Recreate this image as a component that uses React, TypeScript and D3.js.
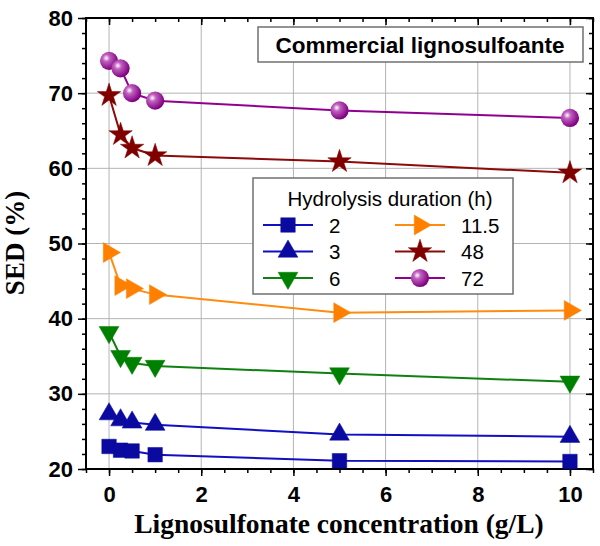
import React, { useEffect, useRef } from 'react';
import * as d3 from 'd3';

// concentrations (g/L)
const conc = [0, 0.25, 0.5, 1, 5, 10];

// SED (%) per hydrolysis duration
const sed2 = [23.0, 22.5, 22.4, 21.9, 21.1, 21.0];
const sed3 = [27.3, 26.5, 26.2, 25.9, 24.6, 24.3];
const sed6 = [38.2, 35.0, 34.1, 33.7, 32.7, 31.6];
const sed11 = [48.8, 44.4, 44.0, 43.2, 40.8, 41.1];
const sed48 = [69.7, 64.5, 62.7, 61.7, 60.9, 59.4];
const sed72 = [74.3, 73.3, 70.0, 69.0, 67.7, 66.7];

const seriesNames = ['2', '3', '6', '11.5', '48', '72'];
const seriesValues = [sed2, sed3, sed6, sed11, sed48, sed72];

const xTicks = [0, 2, 4, 6, 8, 10];
const yTicks = [20, 30, 40, 50, 60, 70, 80];

const App = () => {
  const svgRef = useRef(null);

  useEffect(() => {
    const width = 600;
    const height = 546;
    const svg = d3.select(svgRef.current);
    svg.selectAll('*').remove();
    svg.attr('width', width).attr('height', height);

    const m = { left: 86, right: 593, top: 18, bottom: 469 };
    const x = d3.scaleLinear().domain([-0.5, 10.5]).range([m.left, m.right]);
    const y = d3.scaleLinear().domain([20, 80]).range([m.bottom, m.top]);

    const defs = svg.append('defs');
    const grad = defs.append('radialGradient')
      .attr('id', 'sphere')
      .attr('cx', '35%').attr('cy', '35%').attr('r', '65%');
    grad.append('stop').attr('offset', '0%').attr('stop-color', '#ffffff');
    grad.append('stop').attr('offset', '30%').attr('stop-color', '#c060c0');
    grad.append('stop').attr('offset', '100%').attr('stop-color', '#800080');

    // grid
    const grid = svg.append('g').attr('stroke', '#b4b4b4').attr('stroke-width', 1);
    xTicks.forEach(t => {
      grid.append('line').attr('x1', x(t)).attr('x2', x(t)).attr('y1', m.top).attr('y2', m.bottom);
    });
    yTicks.slice(1, -1).forEach(t => {
      grid.append('line').attr('x1', m.left).attr('x2', m.right).attr('y1', y(t)).attr('y2', y(t));
    });

    // axes
    const xMinor = d3.range(-0.5, 10.51, 0.5);
    const yMinor = d3.range(20, 80.01, 2);
    const styleAxis = (g, fs) => {
      g.select('.domain').remove();
      g.selectAll('line').attr('stroke', '#000').attr('stroke-width', 1.5);
      g.selectAll('text')
        .attr('font-family', 'Liberation Sans, Arial, sans-serif')
        .attr('font-weight', 'bold')
        .attr('font-size', fs)
        .attr('fill', '#000');
    };

    // bottom
    svg.append('g').attr('transform', `translate(0,${m.bottom})`)
      .call(d3.axisBottom(x).tickValues(xMinor).tickSize(4).tickFormat(() => ''))
      .call(g => styleAxis(g, 0));
    svg.append('g').attr('transform', `translate(0,${m.bottom})`)
      .call(d3.axisBottom(x).tickValues(xTicks).tickSize(7).tickPadding(10).tickFormat(d3.format('d')))
      .call(g => styleAxis(g, 22));
    // top (inward)
    svg.append('g').attr('transform', `translate(0,${m.top})`)
      .call(d3.axisBottom(x).tickValues(xMinor).tickSize(4).tickFormat(() => ''))
      .call(g => styleAxis(g, 0));
    svg.append('g').attr('transform', `translate(0,${m.top})`)
      .call(d3.axisBottom(x).tickValues(xTicks).tickSize(7).tickFormat(() => ''))
      .call(g => styleAxis(g, 0));
    // left
    svg.append('g').attr('transform', `translate(${m.left},0)`)
      .call(d3.axisLeft(y).tickValues(yMinor).tickSize(4).tickFormat(() => ''))
      .call(g => styleAxis(g, 0));
    svg.append('g').attr('transform', `translate(${m.left},0)`)
      .call(d3.axisLeft(y).tickValues(yTicks).tickSize(8).tickPadding(5).tickFormat(d3.format('d')))
      .call(g => styleAxis(g, 22));
    // right (inward)
    svg.append('g').attr('transform', `translate(${m.right},0)`)
      .call(d3.axisLeft(y).tickValues(yMinor).tickSize(4).tickFormat(() => ''))
      .call(g => styleAxis(g, 0));
    svg.append('g').attr('transform', `translate(${m.right},0)`)
      .call(d3.axisLeft(y).tickValues(yTicks).tickSize(7).tickFormat(() => ''))
      .call(g => styleAxis(g, 0));

    svg.append('rect')
      .attr('x', m.left).attr('y', m.top)
      .attr('width', m.right - m.left).attr('height', m.bottom - m.top)
      .attr('fill', 'none').attr('stroke', '#000').attr('stroke-width', 2);

    // series styles
    const styles = [
      { line: '#1010c0', fill: '#0a0aa0', type: d3.symbolSquare, size: 210, rot: 0 },
      { line: '#1010c0', fill: '#0a0aa0', type: d3.symbolTriangle, size: 170, rot: 0 },
      { line: '#108010', fill: '#008000', type: d3.symbolTriangle, size: 170, rot: 180 },
      { line: '#ff8c10', fill: '#ff8000', type: d3.symbolTriangle, size: 170, rot: 90 },
      { line: '#8b0a0a', fill: '#800000', type: d3.symbolStar, size: 170, rot: 0 },
      { line: '#900090', fill: 'url(#sphere)', type: d3.symbolCircle, size: 260, rot: 0 },
    ];

    const line = d3.line().x((d, i) => x(conc[i])).y(d => y(d));
    const plot = svg.append('g');
    seriesValues.forEach((vals, si) => {
      const s = styles[si];
      plot.append('path').datum(vals)
        .attr('d', line)
        .attr('fill', 'none').attr('stroke', s.line).attr('stroke-width', 2);
    });
    seriesValues.forEach((vals, si) => {
      const s = styles[si];
      const sym = d3.symbol().type(s.type).size(s.size);
      plot.selectAll(null).data(vals).enter().append('path')
        .attr('d', sym)
        .attr('transform', (d, i) => `translate(${x(conc[i])},${y(d)}) rotate(${s.rot})`)
        .attr('fill', s.fill)
        .attr('stroke', si === 5 ? 'none' : s.fill)
        .attr('stroke-width', 0.5);
    });

    // title box
    svg.append('rect').attr('x', 258).attr('y', 27).attr('width', 325).attr('height', 35)
      .attr('fill', '#fff').attr('stroke', '#707070').attr('stroke-width', 1.5);
    svg.append('text').attr('x', 420).attr('y', 53)
      .attr('text-anchor', 'middle')
      .attr('font-family', 'Liberation Sans, Arial, sans-serif')
      .attr('font-weight', 'bold').attr('font-size', 22.5)
      .text('Commercial lignosulfoante');

    // legend
    const lg = svg.append('g');
    lg.append('rect').attr('x', 253).attr('y', 178).attr('width', 260).attr('height', 116)
      .attr('fill', '#fff').attr('stroke', '#707070').attr('stroke-width', 1.5);
    lg.append('text').attr('x', 390).attr('y', 206)
      .attr('text-anchor', 'middle')
      .attr('font-family', 'Liberation Sans, Arial, sans-serif')
      .attr('font-size', 20.5)
      .text('Hydrolysis duration (h)');
    seriesNames.forEach((name, i) => {
      const s = styles[i];
      const col = Math.floor(i / 3);
      const row = i % 3;
      const cx = col === 0 ? 288 : 420;
      const cy = 225 + row * 26.5;
      lg.append('line').attr('x1', cx - 25).attr('x2', cx + 25).attr('y1', cy).attr('y2', cy)
        .attr('stroke', s.line).attr('stroke-width', 2);
      lg.append('path')
        .attr('d', d3.symbol().type(s.type).size(s.size)())
        .attr('transform', `translate(${cx},${cy}) rotate(${s.rot})`)
        .attr('fill', s.fill)
        .attr('stroke', i === 5 ? 'none' : s.fill).attr('stroke-width', 0.5);
      lg.append('text').attr('x', cx + 41).attr('y', cy + 7.5)
        .attr('font-family', 'Liberation Sans, Arial, sans-serif')
        .attr('font-size', 20.5)
        .text(name);
    });

    // axis titles
    svg.append('text').attr('x', 339).attr('y', 533)
      .attr('text-anchor', 'middle')
      .attr('font-family', 'Liberation Serif, Times New Roman, serif')
      .attr('font-weight', 'bold').attr('font-size', 27.5)
      .text('Lignosulfonate concentration (g/L)');
    svg.append('text')
      .attr('transform', 'translate(24,243) rotate(-90)')
      .attr('text-anchor', 'middle')
      .attr('font-family', 'Liberation Serif, Times New Roman, serif')
      .attr('font-weight', 'bold').attr('font-size', 27)
      .text('SED (%)');
  }, []);

  return <svg ref={svgRef} style={{ display: 'block', position: 'absolute', left: 0, top: 0 }}></svg>;
};

export default App;
